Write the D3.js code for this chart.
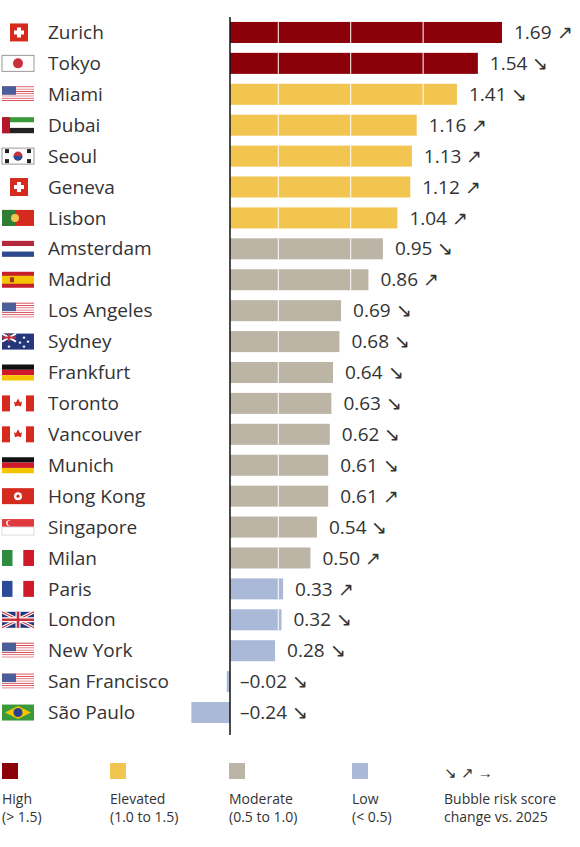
<!DOCTYPE html><html><head><meta charset="utf-8"><script src="https://cdn.jsdelivr.net/npm/d3@7"></script>
<style>body{margin:0;background:#fff}text{font-family:"Open Sans",sans-serif}</style></head><body><svg id="c" width="580" height="847"></svg><script>
const cities=["Zurich","Tokyo","Miami","Dubai","Seoul","Geneva","Lisbon","Amsterdam","Madrid","Los Angeles","Sydney","Frankfurt","Toronto","Vancouver","Munich","Hong Kong","Singapore","Milan","Paris","London","New York","San Francisco","São Paulo"];
const values=[1.69,1.54,1.41,1.16,1.13,1.12,1.04,0.95,0.86,0.69,0.68,0.64,0.63,0.62,0.61,0.61,0.54,0.50,0.33,0.32,0.28,-0.02,-0.24];
const trends=["↗","↘","↘","↗","↗","↗","↗","↘","↗","↘","↘","↘","↘","↘","↘","↗","↘","↗","↗","↘","↘","↘","↘"];
const flags=["ch","jp","us","ae","kr","ch","pt","nl","es","us","au","de","ca","ca","de","hk","sg","it","fr","gb","us","us","br"];
const gridVals=[0.3,0.75,1.2];
const cats=[{n:"High",r:"(> 1.5)",c:"#8b0009"},{n:"Elevated",r:"(1.0 to 1.5)",c:"#f2c550"},{n:"Moderate",r:"(0.5 to 1.0)",c:"#bcb5a6"},{n:"Low",r:"(< 0.5)",c:"#aab9d8"}];
const col=v=>v>1.5?cats[0].c:v>=1.0?cats[1].c:v>=0.5?cats[2].c:cats[3].c;
const svg=d3.select("#c");
const x=d3.scaleLinear().domain([0,1.69]).range([230,502]);
const y=d3.scaleBand().domain(cities).range([17,728]).paddingInner(0.32).paddingOuter(0.16);
const bw=y.bandwidth();
cities.forEach((c,i)=>{
 const v=values[i],yy=y(c);
 svg.append("rect").attr("x",x(Math.min(0,v))).attr("y",yy).attr("width",Math.abs(x(v)-x(0))).attr("height",bw).attr("fill",col(v));
 gridVals.forEach(g=>{if(g<v)svg.append("line").attr("x1",x(g)).attr("x2",x(g)).attr("y1",yy).attr("y2",yy+bw).attr("stroke","#fff").attr("stroke-width",1);});
 const cy=yy+bw/2;
 svg.append("text").attr("x",48).attr("y",cy).attr("dy","0.35em").attr("font-size",19).attr("fill","#333").text(c);
 svg.append("text").attr("x",x(Math.max(0,v))+(v<0?10:12)).attr("y",cy).attr("dy","0.35em").attr("font-size",19).attr("fill","#333").text((v<0?"–":"")+Math.abs(v).toFixed(2)+" "+trends[i]);
 drawFlag(flags[i],2,cy-8);
});
svg.append("line").attr("x1",x(0)).attr("x2",x(0)).attr("y1",17).attr("y2",735).attr("stroke","#111").attr("stroke-width",1.5);
function drawFlag(f,x0,y0){const g=svg.append("g").attr("transform",`translate(${x0},${y0})`);const W=32,H=16;
 const r=(a,b,w,h,c)=>g.append("rect").attr("x",a).attr("y",b).attr("width",w).attr("height",h).attr("fill",c);
 const circ=(a,b,rr,c)=>g.append("circle").attr("cx",a).attr("cy",b).attr("r",rr).attr("fill",c);
 if(f=="ch"){r(8,-1,18,18,"#d52b1e");r(15,3,4,10,"#fff");r(12,6,10,4,"#fff");}
 else if(f=="jp"){r(0,0,W,H,"#fff").attr("stroke","#999");circ(16,8,5,"#c8313b");}
 else if(f=="us"){for(let k=0;k<7;k++)r(0,k*16/7,W,16/14,"#d9505a");r(0,0,W,0,"#fff");for(let k=0;k<7;k++)r(0,k*16/7+16/14,W,16/14,"#fff");r(0,0,14,8.5,"#4a5f9a");}
 else if(f=="ae"){r(0,0,W,5.3,"#3a9a3a");r(0,5.3,W,5.4,"#fff");r(0,10.7,W,5.3,"#222");r(0,0,8,H,"#b5162c");}
 else if(f=="kr"){r(0,0,W,H,"#fff").attr("stroke","#999");circ(16,8,4.5,"#c8313b");g.append("path").attr("d","M11.5,8 A4.5,4.5 0 0 0 20.5,8 Z").attr("fill","#2a4a9a");[[5,3],[27,3],[5,13],[27,13]].forEach(p=>r(p[0]-2,p[1]-2,4,4,"#222"));}
 else if(f=="pt"){r(0,0,W,H,"#d52b1e");r(0,0,13,H,"#2e7d32");circ(13,8,4,"#f2c550");}
 else if(f=="nl"){r(0,0,W,5.3,"#b5283a");r(0,5.3,W,5.4,"#fff");r(0,10.7,W,5.3,"#2d4a8f");}
 else if(f=="es"){r(0,0,W,H,"#c8202b");r(0,4,W,8,"#f5c400");r(8,5.5,4,5,"#a0302a");}
 else if(f=="au"){r(0,0,W,H,"#26367a");r(0,0,14,8,"#26367a");g.append("path").attr("d","M0,0L14,8M14,0L0,8").attr("stroke","#fff").attr("stroke-width",2);g.append("path").attr("d","M7,0V8M0,4H14").attr("stroke","#c8313b").attr("stroke-width",2);[[22,4],[26,8],[22,13],[18,9],[7,13]].forEach(p=>circ(p[0],p[1],1.2,"#fff"));}
 else if(f=="de"){r(0,0,W,5.3,"#111");r(0,5.3,W,5.4,"#d0192b");r(0,10.7,W,5.3,"#f5c400");}
 else if(f=="ca"){r(0,0,W,H,"#fff");r(0,0,8,H,"#d52b1e");r(24,0,8,H,"#d52b1e");g.append("path").attr("d","M16,3L18,7L20,6L19,11L16,10L13,11L12,6L14,7Z").attr("fill","#d52b1e");}
 else if(f=="hk"){r(0,0,W,H,"#d52b1e");circ(16,8,4,"#fff");circ(16,8,1.6,"#d52b1e");}
 else if(f=="sg"){r(0,0,W,8,"#e03a3e");r(0,8,W,8,"#fff").attr("stroke","#ddd");circ(7,4,2.8,"#fff");circ(8.2,4,2.6,"#e03a3e");}
 else if(f=="it"){r(0,0,10.7,H,"#2e8b3f");r(10.7,0,10.6,H,"#fff");r(21.3,0,10.7,H,"#d0192b");}
 else if(f=="fr"){r(0,0,10.7,H,"#2c4a9a");r(10.7,0,10.6,H,"#fff");r(21.3,0,10.7,H,"#d0192b");}
 else if(f=="gb"){r(0,0,W,H,"#26367a");g.append("path").attr("d","M0,0L32,16M32,0L0,16").attr("stroke","#fff").attr("stroke-width",3.5);g.append("path").attr("d","M0,0L32,16M32,0L0,16").attr("stroke","#c8313b").attr("stroke-width",1.2);g.append("path").attr("d","M16,0V16M0,8H32").attr("stroke","#fff").attr("stroke-width",5);g.append("path").attr("d","M16,0V16M0,8H32").attr("stroke","#c8313b").attr("stroke-width",2.6);}
 else if(f=="br"){r(0,0,W,H,"#3a9a3a");g.append("path").attr("d","M16,1.5L29,8L16,14.5L3,8Z").attr("fill","#f5c400");circ(16,8,4.5,"#2a3f8f");}
}
const lx=[2,110,229,352];
cats.forEach((c,i)=>{svg.append("rect").attr("x",lx[i]).attr("y",763).attr("width",16).attr("height",16).attr("fill",c.c);
 svg.append("text").attr("x",lx[i]).attr("y",804).attr("font-size",14).attr("fill","#333").text(c.n);
 svg.append("text").attr("x",lx[i]).attr("y",822).attr("font-size",14).attr("fill","#333").text(c.r);});
svg.append("text").attr("x",444).attr("y",778).attr("font-size",15).attr("fill","#333").text("↘ ↗ →");
svg.append("text").attr("x",444).attr("y",804).attr("font-size",14).attr("fill","#333").text("Bubble risk score");
svg.append("text").attr("x",444).attr("y",822).attr("font-size",14).attr("fill","#333").text("change vs. 2025");
</script></body></html>
